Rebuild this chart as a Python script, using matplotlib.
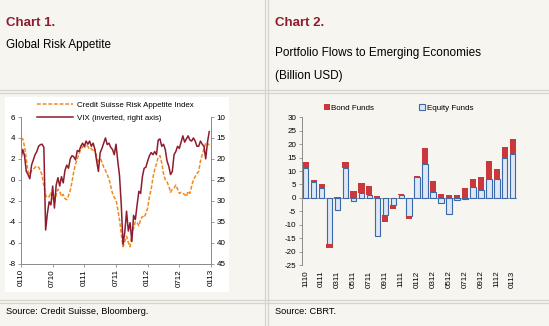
import matplotlib
matplotlib.use('Agg')
import matplotlib.pyplot as plt
import numpy as np
import pandas as pd
from matplotlib.patches import Rectangle
from matplotlib.lines import Line2D

plt.rcParams['font.family'] = ['Liberation Sans', 'DejaVu Sans']
plt.rcParams['axes.unicode_minus'] = False

# Chart 1: values every third of a month, Jan 2010 - Jan 2013
cs_index = [4.0, 3.9, 3.2, 2.0, 0.8, 0.5, 0.85, 1.0, 1.2, 1.3, 1.2, 0.9,
            0.4, -0.6, -1.5, -1.7, -1.6, -1.2, -1.7, -2.2, -1.4, -0.9, -1.1, -1.6,
            -1.4, -1.8, -1.9, -1.5, -1.0, -0.2, 0.8, 1.5, 2.0, 2.5, 2.9, 3.2,
            3.0, 3.4, 3.2, 2.9, 3.0, 2.7, 2.9, 2.2, 1.6, 2.1, 1.7, 1.2,
            0.9, 0.5, 0.1, -0.6, -1.3, -1.7, -1.9, -2.8, -3.8, -5.2, -6.4, -5.9,
            -5.4, -6.0, -6.4, -5.2, -4.6, -4.0, -4.1, -4.4, -3.8, -3.5, -3.6, -3.2,
            -2.7, -1.6, -0.9, 0.2, 1.0, 1.5, 2.2, 2.3, 1.6, 0.6, 0.0, -0.2,
            -0.6, -1.2, -0.9, -0.8, -0.5, -0.9, -1.3, -1.2, -1.3, -1.4, -1.6, -1.1,
            -1.3, -0.6, 0.0, 0.3, 0.6, 0.8, 1.8, 2.4, 3.0, 3.5, 3.5, 3.3]
vix = [20.0, 17.75, 19.25, 23, 23.75, 24.75, 21.5, 20.25, 19, 18.25,
       17, 16.6, 16.5, 17.25, 37, 33, 30.25, 31, 26.5, 31.75,
       26.25, 24.5, 26.5, 24.25, 25.75, 22.75, 21.5, 22.25, 20, 19.25,
       19.5, 20.25, 18, 18.25, 17, 16.25, 17, 15.75, 16.5, 15.75,
       17, 16.25, 17.75, 20.5, 23, 18.5, 17.5, 16.25, 15, 16.6,
       16.25, 17.25, 17.75, 19, 16.5, 20.5, 24, 31, 40.5, 37.5,
       32.5, 37.25, 35.25, 39.75, 33.5, 34.5, 31, 27.75, 28.25, 24.25,
       22.25, 22, 20.5, 19.25, 18.5, 19, 18.25, 19, 15.5, 15.25,
       17, 16.5, 17.75, 20.5, 21.75, 23.75, 23, 19, 18.25, 17,
       17.5, 16, 14.5, 16, 15.25, 14.5, 15.5, 15.75, 15, 15.75,
       17, 17, 15.75, 16.5, 17, 20, 16, 13.5]
risk_ticks = ['0110', '0710', '0111', '0711', '0112', '0712', '0113']

# Chart 2: monthly flows, Nov 2010 - Jan 2013
flow_months = pd.period_range('2010-11', '2013-01', freq='M').strftime('%m%y').tolist()
equity = [11.3, 6.0, 3.5, -17.0, -4.7, 11.2, -1.2, 1.7, 1.2, -14.3, -6.2, -2.5, 1.0, -6.8,
          7.6, 12.7, 2.0, -1.9, -6.1, -0.9, -0.3, 3.9, 3.0, 7.0, 7.0, 15.0, 16.3]
bond = [2.1, 0.8, 1.5, -1.7, 0.5, 2.2, 2.7, 4.0, 3.2, 0.6, -2.9, -1.7, 0.5, -0.9,
        0.7, 6.0, 4.3, 1.6, 1.2, 1.0, 3.5, 3.1, 4.8, 6.7, 3.6, 4.0, 5.7]

BG = '#f6f5f0'
GRID = '#d6d4ce'
AXC = '#8c8c8c'
DARKRED = '#8e1c2e'
W, H = 549, 326

def fx(px):
    return px / W

def fy(py):
    return 1 - py / H

fig = plt.figure(figsize=(W / 100, H / 100), dpi=100, facecolor=BG)

# panel separators
for y in (89.5, 92.5, 299.5, 302.5):
    fig.add_artist(Line2D([0, 1], [fy(y)] * 2, color=GRID, lw=0.9))
for x in (264.5, 267.5):
    fig.add_artist(Line2D([fx(x)] * 2, [0, 1], color=GRID, lw=0.9))

# white box behind chart 1
fig.add_artist(Rectangle((fx(5), fy(292)), fx(224), 195 / H, transform=fig.transFigure,
                         facecolor='white', edgecolor='none', zorder=-1))

# headings
fig.text(fx(6), fy(23), 'Chart 1.', color=DARKRED, fontsize=9.5, weight='bold', va='center')
fig.text(fx(6), fy(45), 'Global Risk Appetite', fontsize=8.4, va='center')
fig.text(fx(275), fy(23), 'Chart 2.', color=DARKRED, fontsize=9.5, weight='bold', va='center')
fig.text(fx(275), fy(53), 'Portfolio Flows to Emerging Economies', fontsize=8.5, va='center')
fig.text(fx(275), fy(75.5), '(Billion USD)', fontsize=8.5, va='center')
fig.text(fx(6), fy(312), 'Source: Credit Suisse, Bloomberg.', fontsize=6.7, va='center')
fig.text(fx(275), fy(312), 'Source: CBRT.', fontsize=6.7, va='center')

def style(ax):
    for s in ax.spines.values():
        s.set_color(AXC)
        s.set_linewidth(0.7)
    ax.tick_params(labelsize=5.8, length=2.5, width=0.6, color=AXC, pad=1.5)

# ---- Chart 1
ax1 = fig.add_axes([fx(21), fy(263.5), fx(190), 146.5 / H])
ax1.set_facecolor('none')
x_cs = np.arange(len(cs_index)) / 3
x_vix = np.arange(len(vix)) / 3
l1, = ax1.plot(x_cs, cs_index, color='#f28a1e', ls=(0, (2.5, 1.2)), lw=1.1,
               label='Credit Suisse Risk Appetite Index')
ax1.set_xlim(0, 36)
ax1.set_ylim(-8, 6)
ax1.set_yticks(range(-8, 7, 2))
ax1.set_xticks(range(0, 37, 6))
ax1.set_xticklabels(risk_ticks, rotation=90)
ax2 = ax1.twinx()
l2, = ax2.plot(x_vix, vix, color=DARKRED, lw=1.1, label='VIX (inverted, right axis)')
ax2.set_ylim(45, 10)
ax2.set_yticks(range(10, 46, 5))
for ax in (ax1, ax2):
    style(ax)
    ax.spines['top'].set_visible(False)
ax2.legend(handles=[l1, l2], loc='upper left', bbox_to_anchor=(fx(37), fy(101)),
           bbox_transform=fig.transFigure, frameon=False, fontsize=5.7,
           handlelength=4.6, handletextpad=0.4, labelspacing=0.75,
           borderpad=0, borderaxespad=0)

# ---- Chart 2
ax3 = fig.add_axes([fx(301.7), fy(265), fx(215), 147.7 / H])
ax3.set_facecolor('none')
idx = np.arange(len(flow_months))
eq = np.array(equity)
bd = np.array(bond)
bottom = np.where(np.sign(bd) == np.sign(eq), eq, 0)
b_eq = ax3.bar(idx, eq, width=0.68, color='#dde8f5', edgecolor='#3d68a8', lw=0.8,
               label='Equity Funds', zorder=2)
b_bd = ax3.bar(idx, bd, bottom=bottom, width=0.78, color='#c8383d', lw=0,
               label='Bond Funds', zorder=3)
ax3.axhline(0, color=AXC, lw=0.7, zorder=1)
ax3.set_xlim(-0.5, len(idx) - 0.5)
ax3.set_ylim(-25, 30)
ax3.set_yticks(range(-25, 31, 5))
ax3.set_xticks(idx[::2])
ax3.set_xticklabels(flow_months[::2], rotation=90)
style(ax3)
for s in ('top', 'right', 'bottom'):
    ax3.spines[s].set_visible(False)
ax3.tick_params(axis='x', length=0, pad=4)
ax3.legend(handles=[b_bd, b_eq], loc='upper left', bbox_to_anchor=(fx(324), fy(104)),
           bbox_transform=fig.transFigure, frameon=False, fontsize=5.8, ncol=2,
           handlelength=0.7, handleheight=0.7, handletextpad=0.2, columnspacing=5.6,
           borderpad=0, borderaxespad=0)

fig.savefig('out.png', dpi=100, facecolor=BG)
